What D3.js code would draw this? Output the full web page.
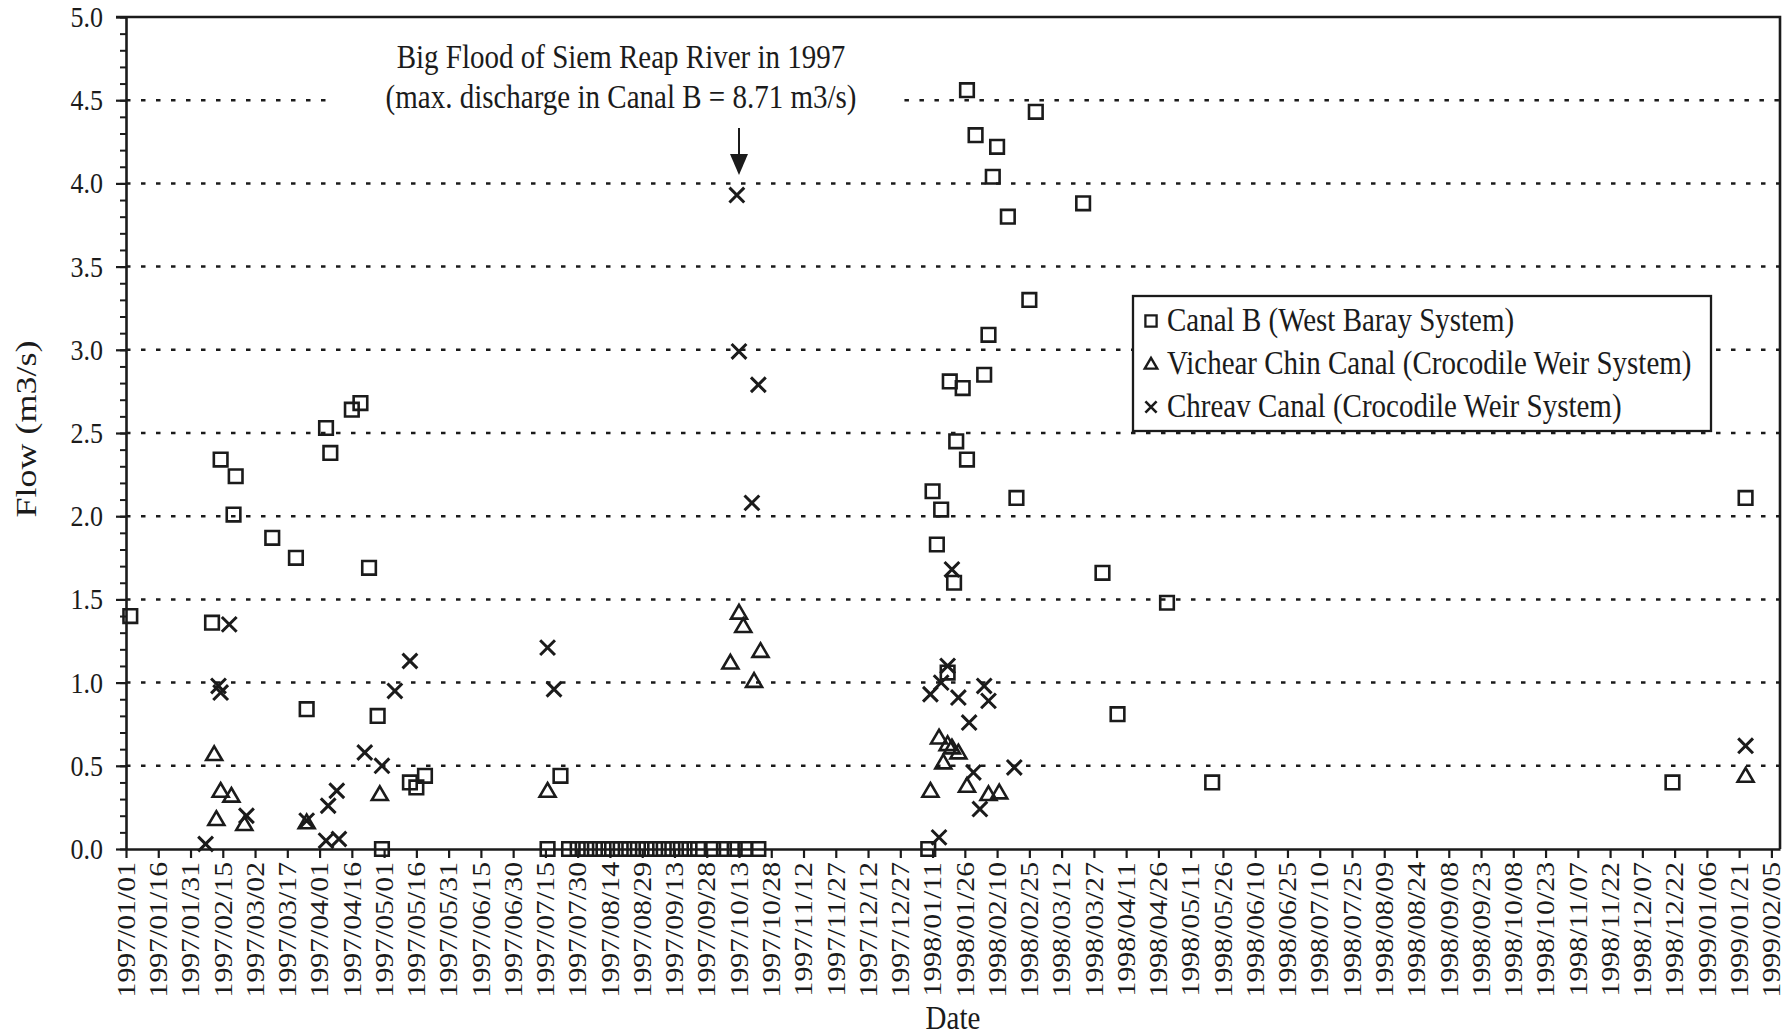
<!DOCTYPE html>
<html>
<head>
<meta charset="utf-8">
<script src="https://cdn.jsdelivr.net/npm/d3@7"></script>
<style>
  html, body { margin: 0; padding: 0; background: #ffffff; }
  svg { display: block; }
  text { font-family: "Liberation Serif", "Times New Roman", serif; fill: #1b1b1b; }
</style>
</head>
<body>
<svg id="chart" width="1786" height="1036"></svg>
<script>
// ---- Measured discharge, m3/s ----
// Canal B (West Baray System)
const canalBDates = [
  "1997-01-03","1997-02-10","1997-02-14","1997-02-20","1997-02-21","1997-03-10","1997-03-21",
  "1997-03-26","1997-04-04","1997-04-06","1997-04-16","1997-04-20","1997-04-24","1997-04-28",
  "1997-04-30","1997-05-13","1997-05-16","1997-05-20","1997-07-16","1997-07-22",
  "1997-07-26","1997-07-30","1997-08-03","1997-08-07","1997-08-11","1997-08-15","1997-08-19",
  "1997-08-23","1997-08-27","1997-08-31","1997-09-04","1997-09-08","1997-09-12","1997-09-16",
  "1997-09-20","1997-09-24","1997-10-01","1997-10-06","1997-10-11","1997-10-16","1997-10-22",
  "1998-01-09","1998-01-11","1998-01-13","1998-01-15","1998-01-18","1998-01-19","1998-01-21",
  "1998-01-22","1998-01-25","1998-01-27","1998-01-27","1998-01-31","1998-02-04","1998-02-06",
  "1998-02-08","1998-02-10","1998-02-15","1998-02-19","1998-02-25","1998-02-28","1998-03-22",
  "1998-03-31","1998-04-07","1998-04-30","1998-05-21","1998-12-21","1999-01-24"
];
const canalBFlow = [
  1.40, 1.36, 2.34, 2.01, 2.24, 1.87, 1.75,
  0.84, 2.53, 2.38, 2.64, 2.68, 1.69, 0.80,
  0.00, 0.40, 0.37, 0.44, 0.00, 0.44,
  0.00, 0.00, 0.00, 0.00, 0.00, 0.00, 0.00,
  0.00, 0.00, 0.00, 0.00, 0.00, 0.00, 0.00,
  0.00, 0.00, 0.00, 0.00, 0.00, 0.00, 0.00,
  0.00, 2.15, 1.83, 2.04, 1.06, 2.81, 1.60,
  2.45, 2.77, 2.34, 4.56, 4.29, 2.85, 3.09,
  4.04, 4.22, 3.80, 2.11, 3.30, 4.43, 3.88,
  1.66, 0.81, 1.48, 0.40, 0.40, 2.11
];

// Vichear Chin Canal (Crocodile Weir System)
const vichearDates = [
  "1997-02-11","1997-02-12","1997-02-14","1997-02-19","1997-02-25","1997-03-26","1997-04-29",
  "1997-07-16","1997-10-09","1997-10-13","1997-10-15","1997-10-20","1997-10-23",
  "1998-01-10","1998-01-14","1998-01-16","1998-01-18","1998-01-20","1998-01-23","1998-01-27",
  "1998-02-06","1998-02-11","1999-01-24"
];
const vichearFlow = [
  0.57, 0.18, 0.35, 0.32, 0.15, 0.16, 0.33,
  0.35, 1.12, 1.42, 1.34, 1.01, 1.19,
  0.35, 0.67, 0.52, 0.63, 0.61, 0.58, 0.38,
  0.33, 0.34, 0.44
];

// Chreav Canal (Crocodile Weir System)
const chreavDates = [
  "1997-02-07","1997-02-13","1997-02-14","1997-02-18","1997-02-26","1997-03-26","1997-04-04",
  "1997-04-05","1997-04-09","1997-04-10","1997-04-22","1997-04-30","1997-05-06","1997-05-13",
  "1997-07-16","1997-07-19","1997-10-12","1997-10-13","1997-10-19","1997-10-22",
  "1998-01-10","1998-01-14","1998-01-15","1998-01-18","1998-01-20","1998-01-23","1998-01-28",
  "1998-01-30","1998-02-02","1998-02-04","1998-02-06","1998-02-18","1999-01-24"
];
const chreavFlow = [
  0.03, 0.98, 0.94, 1.35, 0.20, 0.17, 0.05,
  0.26, 0.35, 0.06, 0.58, 0.50, 0.95, 1.13,
  1.21, 0.96, 3.93, 2.99, 2.08, 2.79,
  0.93, 0.07, 1.00, 1.10, 1.68, 0.91, 0.76,
  0.46, 0.24, 0.98, 0.89, 0.49, 0.62
];

// ---- Axis ticks and labels ----
const xTickLabels = [
  "1997/01/01","1997/01/16","1997/01/31","1997/02/15","1997/03/02","1997/03/17","1997/04/01",
  "1997/04/16","1997/05/01","1997/05/16","1997/05/31","1997/06/15","1997/06/30","1997/07/15",
  "1997/07/30","1997/08/14","1997/08/29","1997/09/13","1997/09/28","1997/10/13","1997/10/28",
  "1997/11/12","1997/11/27","1997/12/12","1997/12/27","1998/01/11","1998/01/26","1998/02/10",
  "1998/02/25","1998/03/12","1998/03/27","1998/04/11","1998/04/26","1998/05/11","1998/05/26",
  "1998/06/10","1998/06/25","1998/07/10","1998/07/25","1998/08/09","1998/08/24","1998/09/08",
  "1998/09/23","1998/10/08","1998/10/23","1998/11/07","1998/11/22","1998/12/07","1998/12/22",
  "1999/01/06","1999/01/21","1999/02/05"
];
const yTickValues = [0.0, 0.5, 1.0, 1.5, 2.0, 2.5, 3.0, 3.5, 4.0, 4.5, 5.0];
const yGridValues = [0.5, 1.0, 1.5, 2.0, 2.5, 3.0, 3.5, 4.0, 4.5];

const seriesNames = [
  "Canal B (West Baray System)",
  "Vichear Chin Canal (Crocodile Weir System)",
  "Chreav Canal (Crocodile Weir System)"
];
const floodNote = [
  "Big Flood of Siem Reap River in 1997",
  "(max. discharge in Canal B = 8.71 m3/s)"
];
const floodDate = "1997-10-13";
const floodNoteLevel = 4.5;

// ---- Layout ----
const ink = "#1b1b1b";
const STRETCH = 1.15;           // the typeface is drawn slightly tall
const plot = { left: 126, right: 1780, top: 17, bottom: 849 };

const parseDay = d3.utcParse("%Y-%m-%d");
const parseTick = d3.utcParse("%Y/%m/%d");

const svg = d3.select("#chart");

const x = d3.scaleUtc()
  .domain([parseTick("1997/01/01"), parseTick("1999/02/09")])
  .range([plot.left, plot.right]);
const y = d3.scaleLinear().domain([0, 5]).range([plot.bottom, plot.top]);

// marker shapes
const squarePath = s => `M${-s},${-s}H${s}V${s}H${-s}Z`;
const trianglePath = s => `M0,${-s * 1.05}L${s * 1.08},${s * 0.8}L${-s * 1.08},${s * 0.8}Z`;
const crossPath = s => `M${-s},${-s}L${s},${s}M${s},${-s}L${-s},${s}`;
const markers = [
  { dates: canalBDates, flow: canalBFlow, path: squarePath(6.8), legend: squarePath(5.6), width: 2.6, lw: 2.3 },
  { dates: vichearDates, flow: vichearFlow, path: trianglePath(7.4), legend: trianglePath(5.8), width: 2.6, lw: 2.4 },
  { dates: chreavDates, flow: chreavFlow, path: crossPath(7.4), legend: crossPath(5.6), width: 3.0, lw: 2.6 }
];

// ---- Flood annotation ----
const note = svg.append("g").attr("class", "flood-note");
floodNote.forEach((line, i) => {
  note.append("text")
    .attr("transform", `translate(621,${68 + i * 40}) scale(1,${STRETCH})`)
    .attr("text-anchor", "middle")
    .style("font-size", "29px")
    .text(line);
});
const noteBox = note.node().getBBox();

const arrowX = x(parseDay(floodDate));
const arrow = svg.append("g").attr("class", "flood-arrow");
arrow.append("line")
  .attr("x1", arrowX).attr("x2", arrowX)
  .attr("y1", 128).attr("y2", 158)
  .attr("stroke", ink).attr("stroke-width", 2);
arrow.append("path")
  .attr("d", `M${arrowX - 9},${154}L${arrowX + 9},${154}L${arrowX},${175}Z`)
  .attr("fill", ink);

// ---- Dotted gridlines ----
const grid = svg.append("g").attr("class", "grid")
  .attr("stroke", ink).attr("stroke-width", 2.5)
  .attr("stroke-dasharray", "4.5 10.5");
yGridValues.forEach(v => {
  const segments = v === floodNoteLevel
    ? [[plot.left, noteBox.x - 50], [noteBox.x + noteBox.width + 48, plot.right]]
    : [[plot.left, plot.right]];
  segments.forEach(([a, b]) => {
    grid.append("line")
      .attr("x1", a).attr("x2", b)
      .attr("y1", y(v)).attr("y2", y(v));
  });
});

// ---- Legend ----
const legend = svg.append("g").attr("class", "legend");
legend.append("rect")
  .attr("x", 1133).attr("y", 296).attr("width", 578).attr("height", 135)
  .attr("fill", "#ffffff").attr("stroke", ink).attr("stroke-width", 2.3);
seriesNames.forEach((name, i) => {
  const cy = 321 + i * 43;
  legend.append("path")
    .attr("transform", `translate(1151,${cy})`)
    .attr("d", markers[i].legend)
    .attr("fill", "none").attr("stroke", ink).attr("stroke-width", markers[i].lw);
  legend.append("text")
    .attr("transform", `translate(1167,${cy + 10}) scale(1,${STRETCH})`)
    .style("font-size", "29px")
    .text(name);
});

// ---- Data points ----
markers.forEach((m, i) => {
  svg.append("g").attr("class", `series-${i}`)
    .selectAll("path")
    .data(d3.zip(m.dates, m.flow))
    .join("path")
    .attr("transform", d => `translate(${x(parseDay(d[0]))},${y(d[1])})`)
    .attr("d", m.path)
    .attr("fill", "none")
    .attr("stroke", ink)
    .attr("stroke-width", m.width);
});

// ---- Axes ----
// minor ticks every 0.1
svg.append("g")
  .attr("transform", `translate(${plot.left},0)`)
  .call(d3.axisLeft(y).ticks(50).tickSize(6).tickSizeOuter(0).tickFormat(""))
  .call(g => g.select(".domain").remove())
  .call(g => g.selectAll(".tick line").attr("stroke", ink).attr("stroke-width", 2));

const gy = svg.append("g")
  .attr("transform", `translate(${plot.left},0)`)
  .call(d3.axisLeft(y).tickValues(yTickValues).tickSize(10).tickSizeOuter(0)
    .tickPadding(13).tickFormat(d3.format(".1f")));
gy.select(".domain").attr("stroke", ink).attr("stroke-width", 2.6);
gy.selectAll(".tick line").attr("stroke", ink).attr("stroke-width", 2.2);
gy.selectAll(".tick text")
  .attr("fill", ink)
  .style("font-size", "26px")
  .style("font-family", '"Liberation Serif", serif')
  .attr("transform", `scale(1,${STRETCH})`);

const gx = svg.append("g")
  .attr("transform", `translate(0,${plot.bottom})`)
  .call(d3.axisBottom(x).tickValues(xTickLabels.map(parseTick)).tickSize(9).tickSizeOuter(0)
    .tickFormat((d, i) => xTickLabels[i]));
gx.select(".domain").attr("stroke", ink).attr("stroke-width", 2.6);
gx.selectAll(".tick line").attr("stroke", ink).attr("stroke-width", 2.2);
gx.selectAll(".tick text")
  .attr("x", null).attr("y", null)
  .attr("dy", "0.33em")
  .attr("text-anchor", "end")
  .attr("fill", ink)
  .style("font-size", "25px")
  .style("font-family", '"Liberation Serif", serif')
  .attr("transform", `translate(0,13) scale(1,1.19) rotate(-90)`);

// frame: top and right edges
svg.append("path")
  .attr("d", `M${plot.left - 10},${plot.top}H${plot.right}V${plot.bottom}`)
  .attr("fill", "none").attr("stroke", ink).attr("stroke-width", 2.6);

// ---- Axis titles ----
svg.append("text")
  .attr("transform", `translate(${(plot.left + plot.right) / 2},1029) scale(1,${STRETCH})`)
  .attr("text-anchor", "middle")
  .style("font-size", "29px")
  .text("Date");

svg.append("text")
  .attr("transform", `translate(36,${(plot.top + plot.bottom) / 2 - 4}) scale(1,1.2) rotate(-90)`)
  .attr("text-anchor", "middle")
  .style("font-size", "30px")
  .text("Flow (m3/s)");
</script>
</body>
</html>
